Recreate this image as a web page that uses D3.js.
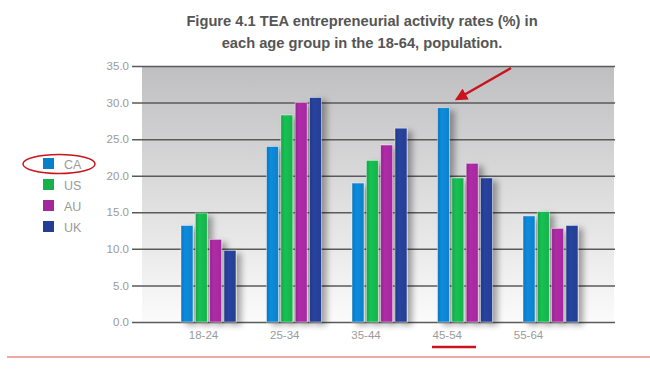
<!DOCTYPE html>
<html><head><meta charset="utf-8">
<script src="https://cdn.jsdelivr.net/npm/d3@7"></script>
<style>body{margin:0;background:#fff;}svg{display:block;font-family:Arial,"Liberation Sans",sans-serif;}</style>
</head><body>
<svg id="c" width="650" height="382"></svg>
<script>
const categories = ["18-24","25-34","35-44","45-54","55-64"];
const seriesNames = ["CA","US","AU","UK"];
const CA = [13.2, 24.0, 19.0, 29.3, 14.5];
const US = [14.9, 28.3, 22.1, 19.7, 15.1];
const AU = [11.3, 30.0, 24.2, 21.7, 12.8];
const UK = [9.8, 30.7, 26.5, 19.7, 13.2];
const yTicks = [0,5,10,15,20,25,30,35];
const colors = ["#0a80cb","#17b14c","#a2289b","#243e92"];
const title = ["Figure 4.1 TEA entrepreneurial activity rates (%) in","each age group in the 18-64, population."];

const seriesValues = [CA, US, AU, UK];
const svg = d3.select("#c");
const defs = svg.append("defs");

const y = d3.scaleLinear().domain([0,35]).range([322,66]);
const x0 = d3.scaleBand().domain(categories).range([181,578]).paddingInner(0.357).paddingOuter(0);
const x1 = d3.scaleBand().domain(seriesNames).range([0,x0.bandwidth()]).paddingInner(0.163);
const xLab = d3.scalePoint().domain(categories).range([203,528]);

// background gradient
const bg = defs.append("linearGradient").attr("id","bg").attr("x1",0).attr("y1",0).attr("x2",0).attr("y2",1);
bg.append("stop").attr("offset","0%").attr("stop-color","#bfbfc1");
bg.append("stop").attr("offset","100%").attr("stop-color","#fbfbfb");
svg.append("rect").attr("x",142).attr("y",66).attr("width",472).attr("height",256).attr("fill","url(#bg)");

// bar gradients
colors.forEach((c,i)=>{
  const g = defs.append("linearGradient").attr("id","g"+i).attr("x1",0).attr("x2",1).attr("y1",0).attr("y2",0);
  g.append("stop").attr("offset","0%").attr("stop-color",d3.color(c).darker(0.25));
  g.append("stop").attr("offset","35%").attr("stop-color",d3.color(c).brighter(0.25));
  g.append("stop").attr("offset","100%").attr("stop-color",c);
});
const sh = defs.append("filter").attr("id","sh").attr("x","-50%").attr("y","-20%").attr("width","250%").attr("height","140%");
sh.append("feGaussianBlur").attr("in","SourceAlpha").attr("stdDeviation",3);
sh.append("feOffset").attr("dx",5).attr("dy",3).attr("result","b");
sh.append("feComponentTransfer").append("feFuncA").attr("type","linear").attr("slope",0.35);
const mg = sh.append("feMerge"); mg.append("feMergeNode"); mg.append("feMergeNode").attr("in","SourceGraphic");

// gridlines + y axis
const yAxis = d3.axisLeft(y).tickValues(yTicks).tickSize(-483).tickPadding(4).tickFormat(d3.format(".1f"));
const ga = svg.append("g").attr("transform","translate(132,0)").call(yAxis);
ga.select(".domain").remove();
ga.selectAll(".tick line").attr("stroke","#5a5a5a").attr("stroke-width",1.5).attr("x1",0);
ga.selectAll(".tick text").attr("fill","#9a9a9a").attr("font-size",11.5).attr("x",-3);

// bars
const groups = svg.append("g").selectAll("g").data(categories).join("g")
  .attr("transform",d=>`translate(${x0(d)},0)`);
groups.selectAll("rect").data((d,ci)=>seriesNames.map((s,si)=>({s,si,v:seriesValues[si][ci]})))
  .join("rect")
  .attr("x",d=>x1(d.s)).attr("width",x1.bandwidth())
  .attr("y",d=>y(d.v)).attr("height",d=>y(0)-y(d.v))
  .attr("fill",d=>`url(#g${d.si})`)
  .attr("stroke","rgba(255,255,255,0.55)").attr("stroke-width",0.8)
  .attr("filter","url(#sh)");

// x labels
const xa = svg.append("g").attr("transform","translate(0,322)").call(d3.axisBottom(xLab).tickSize(0).tickPadding(9));
xa.select(".domain").remove();
xa.selectAll("text").attr("fill","#9a9a9a").attr("font-size",11.5);

// title
svg.append("g").selectAll("text").data(title).join("text")
  .attr("x",362).attr("y",(d,i)=>26+i*22).attr("text-anchor","middle")
  .attr("font-size",14.7).attr("font-weight","bold").attr("fill","#555")
  .text(d=>d);

// legend
const lg = svg.append("g").selectAll("g").data(seriesNames).join("g")
  .attr("transform",(d,i)=>`translate(43,${158+i*21})`);
lg.append("rect").attr("width",11).attr("height",11).attr("fill",(d,i)=>colors[i]);
lg.append("text").attr("x",21).attr("y",10.5).attr("font-size",12.5).attr("fill","#9a9a9a").text(d=>d);

// annotations
const red = "#c8141c";
svg.append("ellipse").attr("cx",59).attr("cy",164).attr("rx",36).attr("ry",9.5)
  .attr("fill","none").attr("stroke",red).attr("stroke-width",1.5);
defs.append("marker").attr("id","ah").attr("viewBox","0 0 10 10").attr("refX",8).attr("refY",5)
  .attr("markerWidth",5).attr("markerHeight",5).attr("orient","auto")
  .append("path").attr("d","M0,0L10,5L0,10z").attr("fill",red);
svg.append("line").attr("x1",511).attr("y1",68).attr("x2",457).attr("y2",99)
  .attr("stroke",red).attr("stroke-width",2.5).attr("marker-end","url(#ah)");
svg.append("line").attr("x1",432).attr("x2",476).attr("y1",347).attr("y2",347)
  .attr("stroke",red).attr("stroke-width",2.5);
svg.append("line").attr("x1",7).attr("x2",650).attr("y1",357).attr("y2",357)
  .attr("stroke","#d9534f").attr("stroke-width",1);
</script>
</body></html>
